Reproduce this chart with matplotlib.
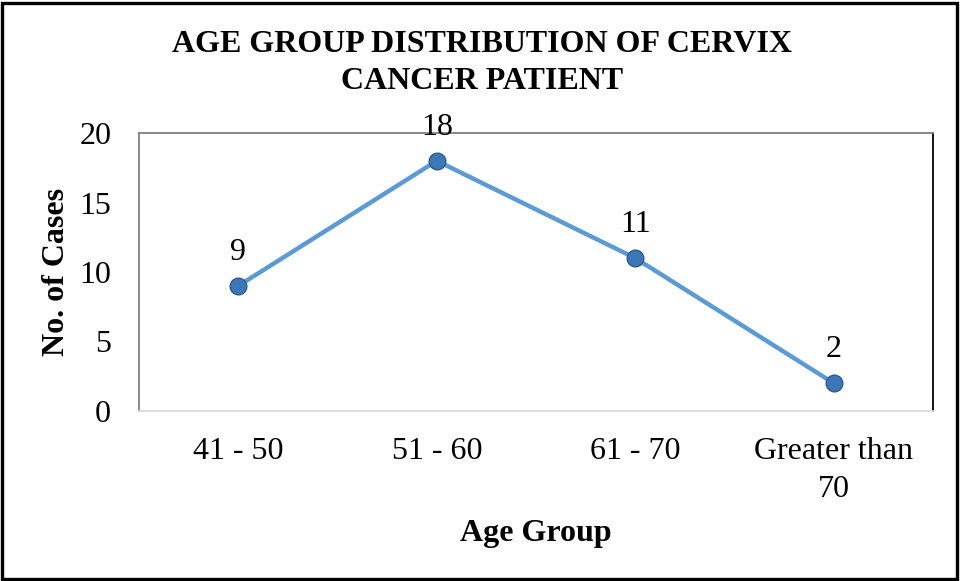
import matplotlib
matplotlib.use("Agg")
import matplotlib.pyplot as plt
from matplotlib.patches import Rectangle

categories = ["41 - 50", "51 - 60", "61 - 70", "Greater than\n70"]
cases = [9, 18, 11, 2]
yticks = [0, 5, 10, 15, 20]

plt.rcParams['font.family'] = ['Liberation Serif', 'DejaVu Serif']
FS = 23

fig = plt.figure(figsize=(9.61, 5.81), dpi=100)
ax = fig.add_axes([139/961, 1-411/581, (933-139)/961, (411-133)/581])

x = list(range(len(categories)))
ax.plot(x, cases, color='#5B9BD5', lw=3.2, marker='o', markersize=12,
        markerfacecolor='#3D78B6', markeredgecolor='#2C5C92', markeredgewidth=1.0,
        solid_capstyle='round', zorder=3)
for xi, v in zip(x, cases):
    ax.annotate(str(v), (xi, v), xytext=(0, 13.5), textcoords='offset points',
                ha='center', va='bottom', fontsize=FS)

ax.set_xlim(-0.5, len(categories) - 0.5)
ax.set_ylim(0, 20)
ax.set_yticks(yticks)
ax.set_yticklabels([str(t) for t in yticks], fontsize=FS)
ax.set_xticks(x)
ax.set_xticklabels(categories, fontsize=FS, linespacing=1.4)
ax.tick_params(axis='both', length=0)
ax.tick_params(axis='y', pad=20)
ax.tick_params(axis='x', pad=19)

ax.spines['left'].set_color('#7F7F7F')
ax.spines['top'].set_color('#7F7F7F')
ax.spines['right'].set_color('#000000')
ax.spines['bottom'].set_color('#D9D9D9')
for s in ax.spines.values():
    s.set_linewidth(1.3)

ax.set_ylabel("No. of Cases", fontsize=FS, fontweight='bold', labelpad=6)
ax.set_xlabel("Age Group", fontsize=FS, fontweight='bold', labelpad=11)

fig.text(482/961, 1-63/581, "AGE GROUP DISTRIBUTION OF CERVIX\nCANCER PATIENT",
         ha='center', va='center', fontsize=FS, fontweight='bold', linespacing=1.33)

fig.patches.append(Rectangle((0.002, 0.004), 0.994, 0.99, transform=fig.transFigure,
                             fill=False, lw=2.4, ec='black'))

fig.savefig("out.png", dpi=100)
